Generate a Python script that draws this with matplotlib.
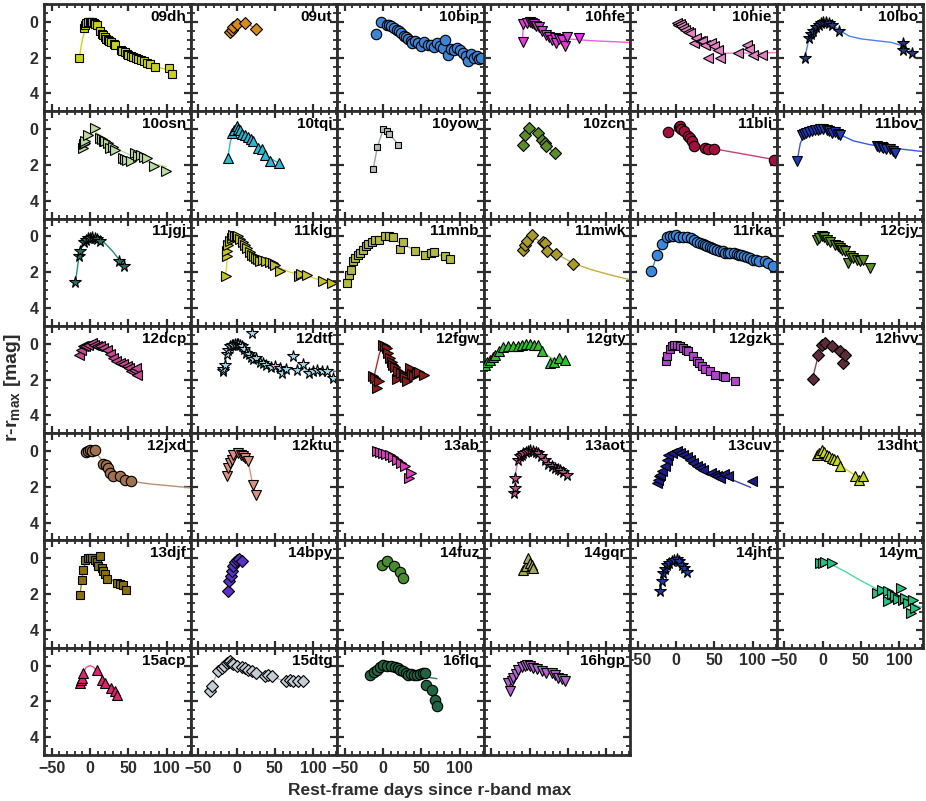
import matplotlib
matplotlib.use("Agg")
import matplotlib.pyplot as plt
from matplotlib.ticker import MultipleLocator

plt.rcParams['font.family'] = ['Liberation Sans', 'DejaVu Sans']
plt.rcParams['font.weight'] = 'bold'
plt.rcParams['mathtext.fontset'] = 'custom'
plt.rcParams['mathtext.rm'] = 'Liberation Sans:bold'

# --- light-curve data (rest-frame days, r - r_max) ---
days_09dh = [-14, -8, -6, -5, -3, -2, 0, 1, 3, 5, 7, 9, 13, 15, 17, 19, 21, 23, 25, 28, 31, 33,
             40, 42, 45, 48, 50, 53, 56, 60, 63, 66, 70, 74, 78, 85, 103, 107]
mags_09dh = [2.0, 0.35, 0.15, 0.08, 0.03, 0.0, 0.0, 0.0, 0.02, 0.05, 0.1, 0.2, 0.5, 0.65, 0.75, 0.85,
             0.95, 1.0, 1.05, 1.15, 1.25, 1.3, 1.55, 1.65, 1.7, 1.8, 1.85, 1.9, 1.95, 2.0, 2.1, 2.15,
             2.2, 2.3, 2.35, 2.5, 2.6, 2.9]
fitd_09dh = [-14, -10, -6, -3, 0, 5, 10, 20, 30, 45, 60, 75, 90, 107]
fitm_09dh = [2.0, 1.0, 0.35, 0.08, 0.0, 0.08, 0.3, 0.85, 1.2, 1.65, 2.0, 2.3, 2.55, 2.75]

days_09ut = [-8, -6, -5, 1, 11, 26]
mags_09ut = [0.55, 0.45, 0.3, 0.12, 0.05, 0.38]

days_10bip = [-9, -3, 5, 8, 11, 14, 18, 21, 24, 27, 30, 33, 36, 38, 42, 46, 50, 54, 58, 62, 66, 70,
              74, 78, 81, 85, 88, 92, 96, 100, 104, 108, 111, 115, 118, 122, 125, 128]
mags_10bip = [0.68, 0.03, 0.15, 0.2, 0.25, 0.35, 0.44, 0.5, 0.62, 0.81, 0.85, 0.95, 1.05, 1.18, 1.05,
              1.2, 1.35, 1.15, 1.3, 1.27, 1.4, 1.2, 1.35, 1.45, 1.0, 1.83, 1.5, 1.6, 1.45, 1.55,
              1.75, 1.9, 2.2, 1.8, 2.0, 1.9, 2.1, 2.0]
fitd_10bip = [-3, 10, 30, 60, 90, 130]
fitm_10bip = [0.0, 0.3, 0.85, 1.3, 1.65, 1.95]

days_10hfe = [-9, -8, -3, 0, 3, 6, 9, 12, 16, 22, 26, 29, 33, 35, 39, 42, 46, 49, 64]
mags_10hfe = [1.1, 0.12, 0.05, 0.0, 0.05, 0.12, 0.25, 0.3, 0.5, 0.72, 0.85, 1.0, 0.9, 1.2, 0.95,
              1.0, 1.37, 0.87, 0.9]
fitd_10hfe = [-9, -8.5, -5, 0, 10, 20, 30, 50, 80, 130]
fitm_10hfe = [1.1, 0.4, 0.1, 0.0, 0.25, 0.6, 0.8, 0.95, 1.05, 1.15]

days_10hie = [1, 3, 5, 7, 9, 12, 15, 18, 23, 26, 31, 34, 38, 42, 45, 49, 55, 57, 81, 92, 95, 101, 112]
mags_10hie = [0.07, 0.2, 0.1, 0.25, 0.35, 0.44, 0.55, 0.62, 1.18, 0.9, 1.09, 1.05, 1.27, 2.0, 1.2,
              1.37, 1.55, 2.0, 1.74, 1.27, 1.5, 1.83, 1.83]
fitd_10hie = [1, 15, 30, 45, 55, 80, 130]
fitm_10hie = [0.05, 0.5, 1.0, 1.5, 1.75, 1.75, 1.72]

days_10lbo = [-23, -18, -15, -12, -8, -5, -2, 1, 4, 8, 12, 21, 105, 105, 117]
mags_10lbo = [2.0, 0.9, 0.7, 0.53, 0.3, 0.16, 0.05, 0.0, 0.0, 0.05, 0.15, 0.5, 1.18, 1.6, 1.74]
fitd_10lbo = [-23, -18, -12, -6, 0, 5, 12, 21, 35, 50, 70, 90, 105, 117]
fitm_10lbo = [2.0, 1.0, 0.5, 0.15, 0.0, -0.02, 0.1, 0.45, 0.8, 0.95, 1.05, 1.15, 1.35, 1.65]

days_10osn = [-9, -8, -7, -6, -2, 6, 13, 15, 18, 20, 23, 26, 30, 33, 43, 45, 48, 54, 58, 62, 67, 70,
              74, 83, 99]
mags_10osn = [1.05, 0.85, 0.75, 0.68, 0.31, -0.06, 0.5, 0.55, 0.65, 0.68, 0.8, 1.05, 1.0, 1.15, 1.6,
              1.65, 1.7, 1.8, 1.33, 1.5, 1.42, 1.55, 1.6, 2.08, 2.36]
fitd_10osn = [6, 20, 40, 60, 80, 99]
fitm_10osn = [0.1, 0.6, 1.2, 1.6, 1.9, 2.1]

days_10tqi = [-11.5, -6, -3, 0, 2, 4.6, 7, 11, 15, 19, 22, 28, 33, 37, 44, 55]
mags_10tqi = [1.61, 0.22, 0.05, -0.15, 0.0, 0.03, 0.25, 0.31, 0.45, 0.55, 0.68, 1.05, 1.1, 1.42, 1.8, 1.9]
fitd_10tqi = [-11.5, -8, -4, 0, 5, 15, 25, 35, 45, 55]
fitm_10tqi = [1.6, 0.7, 0.15, 0.0, 0.08, 0.45, 0.85, 1.25, 1.65, 1.9]

days_10yow = [-12.6, -7.4, 0.4, 5, 8, 20]
mags_10yow = [2.2, 1.0, 0.0, 0.08, 0.25, 0.87]

days_10zcn = [-9, -6, -0.6, 11.5, 16, 20, 22, 33]
mags_10zcn = [0.9, 0.31, -0.06, 0.22, 0.58, 0.78, 0.96, 1.33]

days_11bli = [-10, 4, 5, 7, 10, 15, 18, 20.5, 23, 38, 42, 49, 128]
mags_11bli = [0.18, -0.1, -0.16, 0.0, 0.12, 0.4, 0.5, 0.68, 0.96, 1.05, 1.1, 1.1, 1.7]
fitd_11bli = [-10, 0, 5, 15, 25, 40, 50, 128]
fitm_11bli = [0.2, 0.05, 0.0, 0.3, 0.8, 1.05, 1.1, 1.7]

days_11bov = [-33, -27, -24, -21, -17, -14, -10, -6, -3, 1, 5.5, 9, 12, 16, 20, 23, 71, 74, 77, 79,
              83, 88, 92, 95]
mags_11bov = [1.76, 0.31, 0.28, 0.22, 0.15, 0.12, 0.05, 0.02, 0.0, 0.0, 0.03, 0.1, 0.2, 0.15, 0.25,
              0.31, 0.96, 0.98, 1.0, 1.05, 1.1, 1.1, 1.2, 1.33]
fitd_11bov = [-33, -29, -25, -15, -5, 5, 15, 25, 40, 60, 80, 100, 130]
fitm_11bov = [1.76, 0.8, 0.4, 0.1, 0.0, 0.0, 0.1, 0.35, 0.65, 0.85, 1.0, 1.1, 1.25]

days_11jgj = [-19, -14.4, -12.5, -8, -5, -3, 0, 3, 6.5, 9, 13, 38, 44]
mags_11jgj = [2.55, 1.11, 0.83, 0.3, 0.18, 0.1, 0.09, 0.05, 0.09, 0.15, 0.27, 1.35, 1.63]
fitd_11jgj = [-19, -15, -12, -8, -4, 0, 5, 12, 20, 30, 38, 44]
fitm_11jgj = [2.55, 1.3, 0.7, 0.3, 0.1, 0.02, 0.0, 0.12, 0.4, 0.85, 1.3, 1.6]

days_11klg = [-14, -13, -12, -10.7, -8, -6, -4, -2, 0, 2.4, 5, 8, 11, 14, 17, 20, 23, 26, 28, 31,
              35, 39, 43, 47, 50, 57, 81, 84, 92, 113, 124]
mags_11klg = [2.23, 1.11, 0.8, 0.46, 0.25, 0.1, -0.1, -0.05, 0.0, 0.0, 0.15, 0.3, 0.46, 0.65, 0.85,
              1.02, 1.1, 1.2, 1.25, 1.39, 1.3, 1.39, 1.45, 1.5, 1.58, 1.95, 2.23, 2.1, 2.13, 2.5, 2.6]
fitd_11klg = [-14, -12, -8, -4, 0, 10, 20, 35, 50, 70, 90, 110, 130]
fitm_11klg = [2.2, 1.0, 0.3, 0.0, -0.02, 0.4, 0.95, 1.35, 1.65, 2.0, 2.2, 2.45, 2.7]

days_11mnb = [-47, -45, -42, -39, -36, -33, -30, -26, -22, -19, -15, -10, -5, 2.6, 8, 13, 22, 26,
              42, 55, 62, 66, 81, 87]
mags_11mnb = [2.6, 2.13, 1.85, 1.39, 1.2, 1.05, 0.93, 0.75, 0.55, 0.42, 0.3, 0.22, 0.18, -0.04, 0.0,
              0.05, 0.68, 0.31, 0.79, 1.02, 0.95, 0.87, 1.07, 1.24]
fitd_11mnb = [-47, -40, -30, -20, -10, 0, 10, 25, 45, 65, 87]
fitm_11mnb = [2.6, 1.5, 0.9, 0.45, 0.15, 0.0, 0.05, 0.45, 0.8, 0.95, 1.2]

days_11mwk = [-8, -6, -3.7, 3, 18, 20, 22.5, 35, 57]
mags_11mwk = [0.74, 0.5, 0.27, -0.06, 0.3, 0.37, 0.83, 0.98, 1.54]
fitd_11mwk = [3, 15, 30, 57, 80, 105, 130]
fitm_11mwk = [0.0, 0.3, 0.85, 1.5, 1.85, 2.15, 2.41]

days_11rka = [-32, -25, -18, -12, -8, -4, 0, 4, 9, 14, 19, 24, 28, 31, 35, 38, 41, 44, 47, 50, 54,
              57, 61, 64, 68, 71, 75, 79, 82, 85, 88, 92, 96, 101, 104, 108, 116, 120, 127]
mags_11rka = [1.95, 1.06, 0.45, 0.05, 0.0, -0.02, -0.06, 0.02, 0.05, 0.05, 0.1, 0.2, 0.3, 0.37, 0.42,
              0.5, 0.55, 0.61, 0.65, 0.7, 0.75, 0.83, 0.8, 0.9, 0.95, 0.93, 0.93, 1.0, 1.05, 1.05,
              1.11, 1.15, 1.2, 1.34, 1.3, 1.35, 1.35, 1.5, 1.67]
fitd_11rka = [-32, -25, -18, -10, 0, 10, 30, 60, 90, 130]
fitm_11rka = [1.95, 1.05, 0.45, 0.05, -0.05, 0.05, 0.35, 0.8, 1.1, 1.6]

days_12cjy = [-7.6, -4, -1, 2, 5.5, 10, 16, 20, 23, 26, 29, 33, 36, 40, 45, 49, 53, 62]
mags_12cjy = [0.18, 0.1, 0.0, 0.05, 0.18, 0.3, 0.46, 0.55, 0.65, 0.75, 0.83, 1.48, 1.11, 1.2, 1.3,
              1.4, 1.3, 1.77]
fitd_12cjy = [-7.6, 0, 20, 40, 62]
fitm_12cjy = [0.15, 0.0, 0.55, 1.15, 1.7]

days_12dcp = [-15, -12, -9, -6, -2, 2, 5, 9, 13, 17, 22, 26, 30, 34, 39, 43, 48, 51, 54, 57, 60, 61]
mags_12dcp = [0.61, 0.35, 0.15, 0.1, 0.05, -0.04, 0.05, 0.1, 0.15, 0.25, 0.33, 0.55, 0.8, 0.95,
              1.08, 1.15, 1.26, 1.35, 1.54, 1.45, 1.36, 1.73]
fitd_12dcp = [-15, -5, 5, 20, 40, 61]
fitm_12dcp = [0.5, 0.05, 0.05, 0.35, 1.05, 1.6]

days_12dtf = [-18, -17, -15, -12, -10.7, -8, -6, -4, -2, 0, 2, 4.6, 7, 10, 13, 16, 19, 20, 22, 26,
              30, 34, 39, 45, 50, 57, 59, 65, 74, 79, 87, 94, 100, 105, 112, 118, 126]
mags_12dtf = [1.54, 1.4, 1.17, 0.6, 0.33, 0.15, 0.08, 0.05, 0.0, 0.0, 0.03, 0.05, 0.15, 0.3, 0.52,
              0.6, 0.75, -0.6, 0.85, 0.8, 1.0, 1.1, 1.17, 1.3, 1.25, 1.36, 1.64, 1.4, 0.7, 1.45,
              1.11, 1.64, 1.5, 1.45, 1.5, 1.54, 1.92]
fitd_12dtf = [-18, -14, -10, -6, -2, 3, 10, 20, 30, 40, 55, 75, 100, 130]
fitm_12dtf = [1.5, 0.9, 0.35, 0.08, 0.0, 0.02, 0.3, 0.7, 1.0, 1.2, 1.35, 1.45, 1.5, 1.5]

days_12fgw = [-12.6, -10, -8, -4.7, 0.4, 3, 5, 7, 9.2, 12, 13.5, 16, 18, 20, 23, 27, 29, 31, 35,
              38, 41, 44, 47, 53]
mags_12fgw = [1.82, 1.9, 2.47, 2.1, 0.05, 0.15, 0.24, 0.5, 0.8, 1.0, 1.17, 1.3, 1.98, 1.54, 1.65,
              1.73, 1.85, 2.1, 1.36, 1.7, 1.8, 1.64, 1.6, 1.73]
fitd_12fgw = [-12.6, -5, 0, 5, 15, 25, 40, 53]
fitm_12fgw = [2.0, 0.6, 0.0, 0.3, 1.0, 1.55, 1.7, 1.75]

days_12gty = [-58, -55, -51.6, -48, -45, -40, -34, -28, -21, -15, -10, -5, 0.7, 6, 11.5, 16, 27,
              32, 39, 46]
mags_12gty = [1.17, 1.0, 0.89, 0.75, 0.61, 0.4, 0.2, 0.15, 0.15, 0.1, 0.05, 0.0, 0.0, 0.05, 0.09,
              0.42, 1.08, 1.0, 0.8, 0.89]
fitd_12gty = [-60, -45, -30, -15, 0, 10, 20, 30, 46]
fitm_12gty = [1.25, 0.6, 0.2, 0.03, 0.0, 0.15, 0.55, 0.85, 1.0]

days_12gzk = [-13, -12, -8, -5.6, -2, 1.7, 5, 9.5, 13, 16, 22, 27, 30, 33.5, 38, 44, 51, 61, 64, 77]
mags_12gzk = [0.98, 0.7, 0.3, 0.15, 0.08, 0.05, 0.1, 0.24, 0.35, 0.42, 0.7, 0.98, 1.1, 1.26, 1.4,
              1.54, 1.73, 1.8, 1.88, 2.1]

days_12hvv = [-13, -5.5, -1, 3, 12, 23, 27, 29]
mags_12hvv = [1.95, 0.65, 0.05, -0.04, 0.15, 0.42, 1.08, 0.65]
fitd_12hvv = [-13, -5.5, -1, 3, 12, 23, 29]
fitm_12hvv = [1.95, 0.65, 0.05, -0.04, 0.15, 0.42, 0.65]

days_12jxd = [-5, -3, 0, 3, 6.5, 17, 21, 24, 26, 30, 39, 46, 54]
mags_12jxd = [0.07, 0.0, -0.08, 0.0, -0.04, 0.7, 0.8, 0.95, 1.23, 1.41, 1.38, 1.6, 1.69]
fitd_12jxd = [-5, 5, 20, 40, 54, 80, 105, 130]
fitm_12jxd = [0.05, -0.05, 0.75, 1.4, 1.7, 1.85, 1.95, 2.05]

days_12ktu = [-13, -10.7, -8.5, -6, -4, 2.3, 6, 9, 11, 15, 21, 25]
mags_12ktu = [1.41, 0.95, 0.67, 0.5, 0.2, 0.11, 0.2, 0.3, 0.39, 0.58, 1.88, 2.44]
fitd_12ktu = [-13, -4, 0, 5, 15, 21, 25]
fitm_12ktu = [1.4, 0.15, 0.0, 0.1, 0.55, 1.85, 2.4]

days_13ab = [-8, -4, 0.4, 4, 9, 13, 18, 23, 29, 33.5, 36]
mags_13ab = [0.02, 0.05, 0.11, 0.15, 0.2, 0.35, 0.48, 0.67, 0.85, 1.51, 1.23]
fitd_13ab = [-8, 0, 10, 20, 30, 36]
fitm_13ab = [0.0, 0.05, 0.25, 0.55, 1.0, 1.35]

days_13aot = [-20, -19, -19, -14.6, -12, -10, -8, -5, -2, 0.7, 4, 8, 11.5, 15, 20, 24, 29, 33, 37,
              40, 44, 49]
mags_13aot = [2.35, 2.07, 1.51, 0.49, 0.3, 0.2, 0.11, 0.05, 0.0, -0.08, 0.0, 0.05, 0.11, 0.3, 0.49,
              0.7, 0.85, 0.95, 1.0, 1.04, 1.2, 1.32]
fitd_13aot = [-20, -18, -15, -10, -5, 0, 10, 20, 30, 40, 49]
fitm_13aot = [2.3, 1.2, 0.5, 0.15, 0.02, -0.05, 0.1, 0.45, 0.85, 1.05, 1.3]

days_13cuv = [-25, -24, -22, -21, -18, -14, -12, -10, -5, 1, 5, 9.6, 14, 18, 22.6, 27, 31, 35.6,
              45, 49, 53, 57, 62, 68, 99]
mags_13cuv = [1.79, 1.6, 1.4, 1.32, 1.1, 0.85, 0.5, 0.2, 0.1, 0.02, 0.1, 0.2, 0.35, 0.5, 0.67, 0.85,
              0.95, 1.04, 1.25, 1.32, 1.4, 1.51, 1.3, 1.41, 1.69]
fitd_13cuv = [-14, -10, 0, 10, 20, 35, 50, 70, 97]
fitm_13cuv = [0.85, 0.3, 0.0, 0.2, 0.55, 1.0, 1.3, 1.55, 2.03]

days_13dht = [-7.6, -5, -1, 2, 5.5, 9, 12, 15, 18.5, 23, 42, 47, 53]
mags_13dht = [0.2, 0.1, -0.08, 0.05, 0.2, 0.3, 0.39, 0.45, 0.48, 0.85, 1.41, 1.6, 1.41]
fitd_13dht = [-7.6, 0, 10, 20, 30, 42, 53]
fitm_13dht = [0.15, -0.05, 0.3, 0.6, 1.0, 1.35, 1.5]

days_13djf = [-13, -10.7, -9, -6.5, -3, 0, 3, 6.5, 9, 11, 13, 15, 17, 20, 22.6, 35, 39, 43, 47]
mags_13djf = [2.03, 1.19, 0.63, 0.07, 0.0, -0.02, 0.0, 0.07, 0.2, 0.45, -0.11, 0.55, 0.73, 0.9,
              1.16, 1.38, 1.42, 1.47, 1.75]
fitd_13djf = [-13, -10, -6, 0, 6, 12, 20, 30, 47]
fitm_13djf = [2.0, 1.0, 0.2, -0.02, 0.1, 0.45, 0.95, 1.25, 1.65]

days_14bpy = [-10.7, -9.4, -7.6, -6, -4, -2, 0, 3, 7]
mags_14bpy = [1.84, 1.28, 1.0, 0.7, 0.45, 0.2, 0.07, 0.05, 0.17]

days_14fuz = [-1.7, 5, 14, 22, 26]
mags_14fuz = [0.35, 0.17, 0.41, 0.78, 1.1]

days_14gqr = [-8, -5, -1.6, 0.6, 3, 5]
mags_14gqr = [0.63, 0.45, 0.0, 0.26, 0.4, 0.54]

days_14jhf = [-21, -18.7, -16.5, -14, -12, -9, -5.6, -2, 1, 4, 7.4, 11, 14]
mags_14jhf = [1.84, 1.28, 0.82, 0.6, 0.35, 0.25, 0.17, 0.1, 0.02, 0.15, 0.35, 0.55, 0.78]
fitd_14jhf = [-21, -15, -10, -5, 0, 5, 14]
fitm_14jhf = [1.85, 0.65, 0.3, 0.12, 0.0, 0.2, 0.8]

days_14ym = [-3, 0, 3, 12, 71, 78, 86, 86, 90, 95, 99, 102, 105, 108, 112, 116, 118.5, 121]
mags_14ym = [0.26, 0.25, 0.22, 0.26, 1.94, 1.8, 1.84, 2.4, 2.0, 2.12, 2.3, 1.66, 2.31, 2.2, 2.5,
             3.06, 2.31, 2.8]
fitd_14ym = [-3, 10, 30, 50, 70, 90, 110, 130]
fitm_14ym = [0.2, 0.3, 0.75, 1.25, 1.7, 2.1, 2.45, 2.75]

days_15acp = [-13, -12, -10.7, -8.7, 8.7, 15, 19, 28, 32, 35.6]
mags_15acp = [0.97, 0.8, 0.69, 0.41, 0.22, 0.78, 0.97, 1.25, 1.44, 1.66]
fitd_15acp = [-10, -5, 0, 5, 10, 20, 35.6]
fitm_15acp = [0.5, 0.1, 0.0, 0.1, 0.35, 0.85, 1.6]

days_15dtg = [-34.6, -32, -24, -19, -16, -13, -10, -8.5, -6, -4, 0, 7, 11, 15, 20, 26, 37, 41, 46,
              65, 70, 74, 80, 87]
mags_15dtg = [1.44, 1.16, 0.32, 0.13, 0.0, -0.15, -0.2, -0.24, -0.15, -0.09, 0.0, 0.1, 0.15, 0.22,
              0.3, 0.41, 0.6, 0.55, 0.6, 0.88, 0.8, 0.84, 0.85, 0.88]
fitd_15dtg = [-35, -25, -15, -8, 0, 20, 40, 60, 87]
fitm_15dtg = [1.4, 0.4, 0.0, -0.2, -0.1, 0.35, 0.6, 0.8, 0.88]

days_16flq = [-17, -12, -8, -4, 0.4, 5, 11, 15, 19, 22, 26, 30, 33, 37, 40, 44, 48, 52, 55, 56,
              63.6, 68, 71]
mags_16flq = [0.5, 0.35, 0.22, 0.1, -0.06, 0.05, 0.04, 0.1, 0.15, 0.22, 0.3, 0.4, 0.5, 0.45, 0.5,
              0.5, 0.45, 0.4, 0.41, 1.06, 1.34, 1.9, 2.27]
fitd_16flq = [-17, -5, 0, 15, 30, 50, 70]
fitm_16flq = [0.5, 0.1, 0.0, 0.15, 0.4, 0.6, 0.73]

days_16hgp = [-27.7, -25, -23, -21, -18, -14.6, -10, -6, -3.7, 0, 5, 10, 16, 22, 29, 33, 37.6, 42, 46]
mags_16hgp = [0.97, 1.44, 0.85, 0.69, 0.45, 0.22, 0.1, 0.0, -0.06, 0.05, 0.13, 0.2, 0.32, 0.4, 0.41,
              0.55, 0.69, 0.75, 0.88]
fitd_16hgp = [-27, -20, -10, 0, 15, 30, 46]
fitm_16hgp = [1.2, 0.6, 0.1, 0.0, 0.25, 0.5, 0.85]

# table of panels: name, data, fit (None -> connect the data)
sne = [
    ("09dh", days_09dh, mags_09dh, fitd_09dh, fitm_09dh),
    ("09ut", days_09ut, mags_09ut, None, None),
    ("10bip", days_10bip, mags_10bip, fitd_10bip, fitm_10bip),
    ("10hfe", days_10hfe, mags_10hfe, fitd_10hfe, fitm_10hfe),
    ("10hie", days_10hie, mags_10hie, fitd_10hie, fitm_10hie),
    ("10lbo", days_10lbo, mags_10lbo, fitd_10lbo, fitm_10lbo),
    ("10osn", days_10osn, mags_10osn, fitd_10osn, fitm_10osn),
    ("10tqi", days_10tqi, mags_10tqi, fitd_10tqi, fitm_10tqi),
    ("10yow", days_10yow, mags_10yow, None, None),
    ("10zcn", days_10zcn, mags_10zcn, None, None),
    ("11bli", days_11bli, mags_11bli, fitd_11bli, fitm_11bli),
    ("11bov", days_11bov, mags_11bov, fitd_11bov, fitm_11bov),
    ("11jgj", days_11jgj, mags_11jgj, fitd_11jgj, fitm_11jgj),
    ("11klg", days_11klg, mags_11klg, fitd_11klg, fitm_11klg),
    ("11mnb", days_11mnb, mags_11mnb, fitd_11mnb, fitm_11mnb),
    ("11mwk", days_11mwk, mags_11mwk, fitd_11mwk, fitm_11mwk),
    ("11rka", days_11rka, mags_11rka, fitd_11rka, fitm_11rka),
    ("12cjy", days_12cjy, mags_12cjy, fitd_12cjy, fitm_12cjy),
    ("12dcp", days_12dcp, mags_12dcp, fitd_12dcp, fitm_12dcp),
    ("12dtf", days_12dtf, mags_12dtf, fitd_12dtf, fitm_12dtf),
    ("12fgw", days_12fgw, mags_12fgw, fitd_12fgw, fitm_12fgw),
    ("12gty", days_12gty, mags_12gty, fitd_12gty, fitm_12gty),
    ("12gzk", days_12gzk, mags_12gzk, None, None),
    ("12hvv", days_12hvv, mags_12hvv, fitd_12hvv, fitm_12hvv),
    ("12jxd", days_12jxd, mags_12jxd, fitd_12jxd, fitm_12jxd),
    ("12ktu", days_12ktu, mags_12ktu, fitd_12ktu, fitm_12ktu),
    ("13ab", days_13ab, mags_13ab, fitd_13ab, fitm_13ab),
    ("13aot", days_13aot, mags_13aot, fitd_13aot, fitm_13aot),
    ("13cuv", days_13cuv, mags_13cuv, fitd_13cuv, fitm_13cuv),
    ("13dht", days_13dht, mags_13dht, fitd_13dht, fitm_13dht),
    ("13djf", days_13djf, mags_13djf, fitd_13djf, fitm_13djf),
    ("14bpy", days_14bpy, mags_14bpy, None, None),
    ("14fuz", days_14fuz, mags_14fuz, None, None),
    ("14gqr", days_14gqr, mags_14gqr, None, None),
    ("14jhf", days_14jhf, mags_14jhf, fitd_14jhf, fitm_14jhf),
    ("14ym", days_14ym, mags_14ym, fitd_14ym, fitm_14ym),
    ("15acp", days_15acp, mags_15acp, fitd_15acp, fitm_15acp),
    ("15dtg", days_15dtg, mags_15dtg, fitd_15dtg, fitm_15dtg),
    ("16flq", days_16flq, mags_16flq, fitd_16flq, fitm_16flq),
    ("16hgp", days_16hgp, mags_16hgp, fitd_16hgp, fitm_16hgp),
]

# marker face colour, marker, marker size, line colour
styles = {
    "09dh": ("#c8d31c", "s", 5.5, "#c8d31c"),
    "09ut": ("#d98a1c", "D", 6, "#d98a1c"),
    "10bip": ("#3d83d6", "o", 7.5, "#8ab8e8"),
    "10hfe": ("#e03ad8", "v", 7.5, "#e860e0"),
    "10hie": ("#e483c4", "<", 7.5, "#e483c4"),
    "10lbo": ("#243a7a", "*", 8.5, "#4d80e6"),
    "10osn": ("#b9dc9c", ">", 7.5, "#b9dc9c"),
    "10tqi": ("#25bcd3", "^", 7.5, "#25bcd3"),
    "10yow": ("#b4bcbc", "s", 5, "#9aa2a2"),
    "10zcn": ("#5c8c28", "D", 6, "#5c8c28"),
    "11bli": ("#a3103e", "o", 7.5, "#c84070"),
    "11bov": ("#1c3cbc", "v", 7.5, "#3a5ad8"),
    "11jgj": ("#2a6e62", "*", 8.5, "#2a8a7a"),
    "11klg": ("#c4c428", ">", 7.5, "#d8d840"),
    "11mnb": ("#b2ba44", "s", 5.5, "#b2ba44"),
    "11mwk": ("#ab9c2a", "D", 6, "#c0b040"),
    "11rka": ("#3a88dc", "o", 7.5, "#3a88dc"),
    "12cjy": ("#5e8e2c", "v", 7.5, "#5e8e2c"),
    "12dcp": ("#c44a92", "<", 7.5, "#c44a92"),
    "12dtf": ("#a8d8e8", "*", 8.5, "#a8d8e8"),
    "12fgw": ("#8c1c1c", ">", 7.5, "#a83030"),
    "12gty": ("#30c030", "^", 7.5, "#50d050"),
    "12gzk": ("#b244cc", "s", 5.5, "#b244cc"),
    "12hvv": ("#5c2c3a", "D", 6, "#7a4a5a"),
    "12jxd": ("#a2724e", "o", 7.5, "#b89070"),
    "12ktu": ("#d99282", "v", 7.5, "#d99282"),
    "13ab": ("#e23cc0", ">", 7.5, "#e23cc0"),
    "13aot": ("#b85486", "*", 8.5, "#d080a8"),
    "13cuv": ("#1c1c88", "<", 7.5, "#4040b0"),
    "13dht": ("#c8d820", "^", 7.5, "#c8d820"),
    "13djf": ("#8a7010", "s", 5.5, "#a08828"),
    "14bpy": ("#5a32c8", "D", 6, "#5a32c8"),
    "14fuz": ("#4a8a30", "o", 7.5, "#4a8a30"),
    "14gqr": ("#a8a860", "^", 7, "#a8a860"),
    "14jhf": ("#1c3ca4", "*", 8.5, "#3050c8"),
    "14ym": ("#22c284", ">", 7.5, "#50d8a0"),
    "15acp": ("#e2226c", "^", 7.5, "#f05090"),
    "15dtg": ("#c4ccd4", "D", 6, "#a8b4bc"),
    "16flq": ("#206442", "o", 7.5, "#3a7a5a"),
    "16hgp": ("#b462d2", "v", 7.5, "#b462d2"),
}

frame = "#2d2d2d"
fig = plt.figure(figsize=(9.26, 8.01), dpi=100)
gs = fig.add_gridspec(7, 6, left=44 / 926, right=923 / 926, top=1 - 4 / 801,
                      bottom=1 - 755 / 801, wspace=0, hspace=0)

for i, (name, d, m, fd, fm) in enumerate(sne):
    r, c = divmod(i, 6)
    ax = fig.add_subplot(gs[r, c])
    face, mk, ms, lc = styles[name]
    if fd is None:
        fd, fm = d, m
    ax.plot(fd, fm, '-', color=lc, lw=1.0, zorder=2)
    ax.plot(d, m, linestyle='none', marker=mk, ms=ms, mfc=face, mec='black', mew=0.8, zorder=3)

    ax.set_xlim(-60, 131)
    ax.set_ylim(5, -1)
    ax.xaxis.set_major_locator(MultipleLocator(50))
    ax.xaxis.set_minor_locator(MultipleLocator(10))
    ax.yaxis.set_major_locator(MultipleLocator(2))
    ax.yaxis.set_minor_locator(MultipleLocator(0.5))
    ax.tick_params(which='both', direction='in', top=True, right=True, color=frame,
                   labelcolor=frame, labelsize=11.5, pad=4)
    ax.tick_params(which='major', length=5, width=1.6)
    ax.tick_params(which='minor', length=3, width=1.3)
    for s in ax.spines.values():
        s.set_linewidth(2.0)
        s.set_color(frame)

    show_x = (r == 6 and c <= 2) or (r == 5 and c >= 4)
    if not show_x:
        ax.tick_params(labelbottom=False)
    if c != 0:
        ax.tick_params(labelleft=False)

    ax.text(0.968, 0.945, name, transform=ax.transAxes, ha='right', va='top',
            fontsize=11, fontweight='bold', color='black', zorder=5)

fig.text(430 / 926, 1 - 790 / 801, "Rest-frame days since r-band max", ha='center', va='center',
         fontsize=12.5, fontweight='bold', color=frame)
fig.text(13 / 926, 1 - 387 / 801, r"r-r$_\mathrm{max}$ [mag]", ha='center', va='center',
         rotation=90, fontsize=14, fontweight='bold', color=frame)

fig.savefig("out.png", dpi=100)
